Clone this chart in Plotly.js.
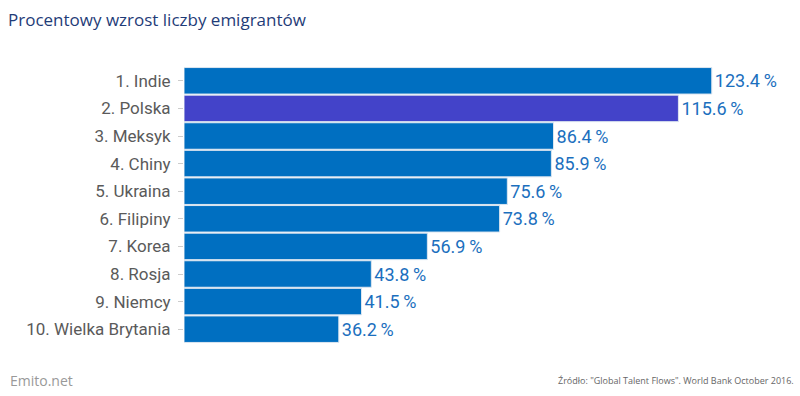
<!DOCTYPE html>
<html><head><meta charset="utf-8">
<script src="https://cdn.plot.ly/plotly-3.0.1.min.js"></script>
<style>body{margin:0;background:#fff}#c{width:800px;height:396px}</style>
</head><body><div id="c"></div>
<script>
const categories = ["1. Indie","2. Polska","3. Meksyk","4. Chiny","5. Ukraina","6. Filipiny","7. Korea","8. Rosja","9. Niemcy","10. Wielka Brytania"];
const values = [123.4,115.6,86.4,85.9,75.6,73.8,56.9,43.8,41.5,36.2];
const highlight = "2. Polska";
const colors = categories.map(c => c === highlight ? "#4343C9" : "#006FC1");
const texts = values.map(v => v.toFixed(1) + "\u2009%");
Plotly.newPlot("c", [{
  type: "bar", orientation: "h",
  x: values, y: categories,
  marker: {color: colors, line: {color: "#dde6f0", width: 1}},
  text: texts, textposition: "outside", cliponaxis: false,
  textfont: {family: "Roboto", size: 18, color: "#1B6FBE"},
  hoverinfo: "none"
}], {
  width: 800, height: 396,
  margin: {l: 184, r: 60, t: 67, b: 53},
  bargap: 0.04,
  paper_bgcolor: "#fff", plot_bgcolor: "#fff",
  showlegend: false,
  xaxis: {range: [0, 130], visible: false, fixedrange: true},
  yaxis: {autorange: "reversed", ticks: "outside", ticklen: 5, tickcolor: "#cccccc",
          tickfont: {family: "Roboto", size: 17, color: "#5a5a5a"}, showline: false, showgrid: false,
          ticklabelstandoff: 4},
  title: {text: "Procentowy wzrost liczby emigrantów", x: 0.01, xanchor: "left", y: 0.95, yanchor: "middle",
          font: {family: "Open Sans", size: 17, color: "#1F3C78"}},
  annotations: [
    {text: "Emito.net", xref: "paper", yref: "paper", x: -0.3165, xanchor: "left", y: -0.135, yanchor: "middle",
     showarrow: false, font: {family: "Open Sans", size: 14, color: "#999999"}},
    {text: "Źródło: \"Global Talent Flows\". World Bank October 2016.", xref: "paper", yref: "paper",
     x: 1.1, xanchor: "right", y: -0.135, yanchor: "middle", showarrow: false,
     font: {family: "Open Sans", size: 9, color: "#666666"}}
  ]
}, {displayModeBar: false, staticPlot: true});
</script></body></html>
